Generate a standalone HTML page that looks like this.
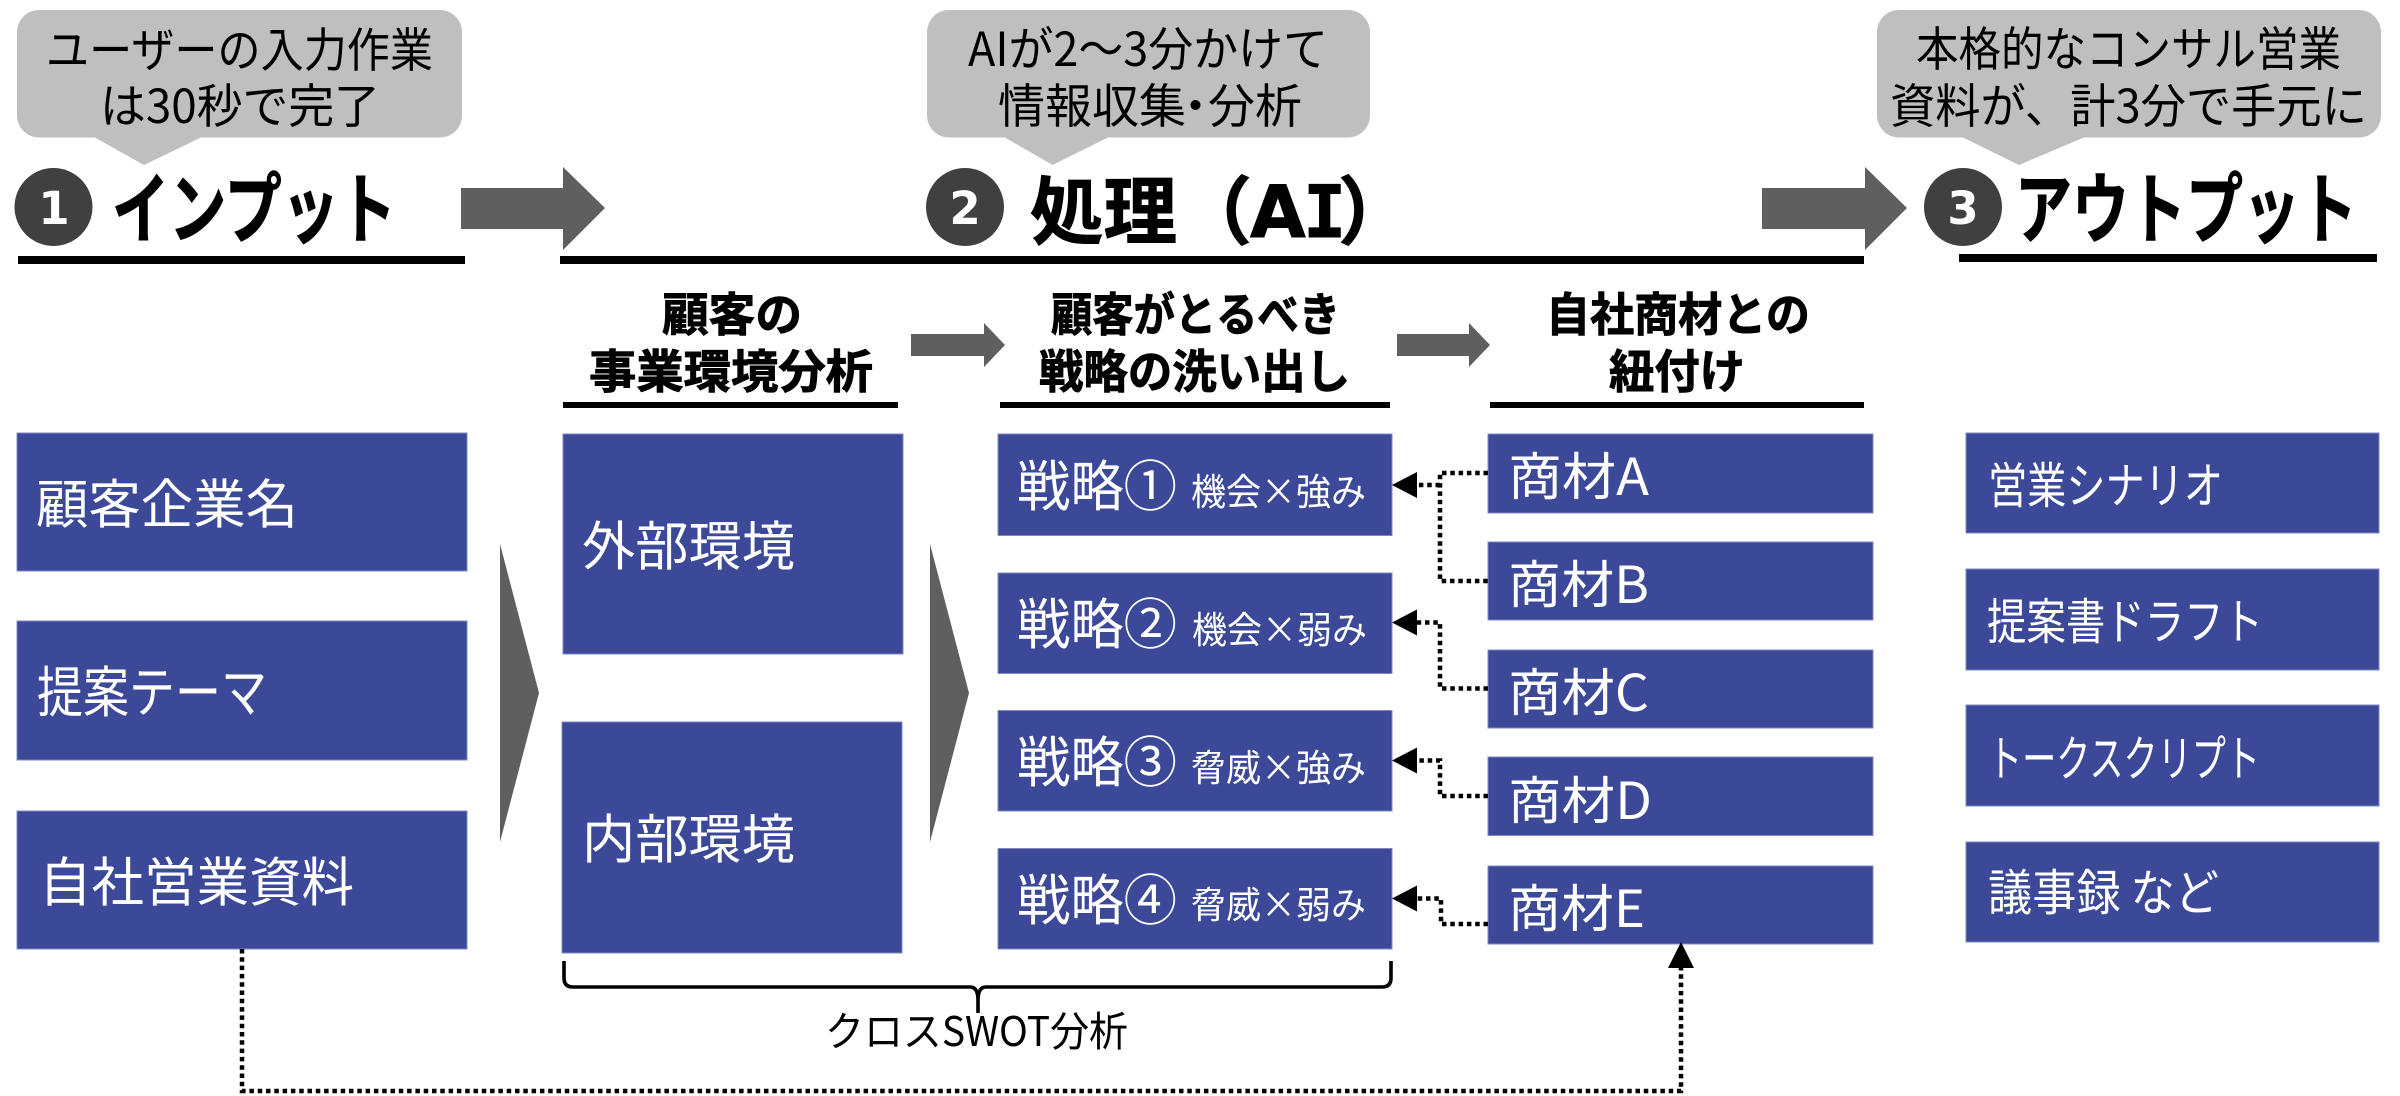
<!DOCTYPE html>
<html lang="ja"><head><meta charset="utf-8"><title>diagram</title>
<style>
html,body{margin:0;padding:0;background:#fff;width:2400px;height:1096px;overflow:hidden}
svg{display:block}
text{font-family:"Liberation Sans","Noto Sans CJK JP",sans-serif;}
.b{font-family:"Noto Sans CJK JP","Liberation Sans",sans-serif;font-weight:700;fill:#000;stroke:#000;stroke-width:.9}
.r{font-family:"Noto Sans CJK JP","Liberation Sans",sans-serif;font-weight:400}
.k{fill:#000}.w{fill:#fff}
.box{fill:#3c4898;stroke:#7f88c4;stroke-width:1}
.d{fill:none;stroke:#000;stroke-width:4.5;stroke-dasharray:4.5 3.8}
</style></head><body>
<svg xmlns="http://www.w3.org/2000/svg" width="2400" height="1096" viewBox="0 0 2400 1096">
<rect width="2400" height="1096" fill="#fff"/>
<!-- bubbles -->
<g fill="#bfbfbf">
<rect x="17" y="10" width="445" height="127.5" rx="22"/><polygon points="94,137 202,137 144,165"/>
<rect x="927" y="10" width="443" height="127.5" rx="22"/><polygon points="1004,137 1109,137 1052.5,165"/>
<rect x="1877" y="10" width="504" height="127.5" rx="22"/><polygon points="1962,137 2085,137 2019,165"/>
</g>
<g class="r k" font-size="47">
<text class="r k" x="46" y="67" textLength="387" lengthAdjust="spacingAndGlyphs">ユーザーの入力作業</text>
<text class="r k" x="100" y="123" textLength="280" lengthAdjust="spacingAndGlyphs">は30秒で完了</text>
<text class="r k" x="968" y="66" textLength="360" lengthAdjust="spacingAndGlyphs">AIが2～3分かけて</text>
<text class="r k"><tspan x="998" y="123">情報収集</tspan><tspan x="1172" y="123">・</tspan><tspan x="1208" y="123">分析</tspan></text>
<text class="r k" x="1916" y="66" textLength="425" lengthAdjust="spacingAndGlyphs">本格的なコンサル営業</text>
<text class="r k" x="1890" y="123" textLength="477" lengthAdjust="spacingAndGlyphs">資料が、計3分で手元に</text>
</g>
<!-- number circles -->
<g fill="#404040"><circle cx="53.5" cy="207" r="39"/><circle cx="965" cy="207" r="39"/><circle cx="1963" cy="207" r="39"/></g>
<g text-anchor="middle" fill="#fff">
<text x="54" y="224" fill="#fff" font-family="DejaVu Sans, sans-serif" font-weight="700" font-size="45" style="font-family:'DejaVu Sans',sans-serif">1</text>
<text x="965" y="224" fill="#fff" font-weight="700" font-size="45" style="font-family:'DejaVu Sans',sans-serif">2</text>
<text x="1963" y="224" fill="#fff" font-weight="700" font-size="45" style="font-family:'DejaVu Sans',sans-serif">3</text>
</g>
<!-- titles -->
<text class="b" x="112" y="237" font-size="77" textLength="284" lengthAdjust="spacingAndGlyphs">インプット</text>
<text class="b" x="1030" y="238" font-size="74" textLength="147" lengthAdjust="spacingAndGlyphs">処理</text>
<text class="b" x="1178" y="238" font-size="74">（</text>
<text class="b" x="1250" y="237" font-size="72" style="font-family:'DejaVu Sans',sans-serif">A</text>
<text class="b" x="1303" y="237" font-size="72" style="font-family:'DejaVu Sans Mono',monospace">I</text>
<text class="b" x="1338" y="238" font-size="74">）</text>
<text class="b" x="2015" y="237" font-size="77" textLength="342" lengthAdjust="spacingAndGlyphs">アウトプット</text>
<!-- lines -->
<g fill="#000">
<rect x="18" y="256" width="447" height="8"/>
<rect x="560" y="256" width="1304" height="8"/>
<rect x="1959" y="254" width="418" height="8"/>
<rect x="563" y="402" width="335" height="6"/>
<rect x="1000" y="402" width="390" height="6"/>
<rect x="1490" y="402" width="374" height="6"/>
</g>
<!-- arrows -->
<g fill="#5f5f5f">
<polygon points="461,188 563,188 563,167 605,208 563,250 563,229 461,229"/>
<polygon points="1762,188 1865,188 1865,167 1907,208 1865,250 1865,229 1762,229"/>
<polygon points="911,334 984,334 984,323 1005,345 984,367 984,356 911,356"/>
<polygon points="1397,334 1469,334 1469,323 1490,345 1469,367 1469,356 1397,356"/>
<polygon points="500,544 539,693 500,842"/>
<polygon points="930,544 969,693 930,842"/>
</g>
<!-- sub headers -->
<text class="b" x="662" y="331" font-size="46" textLength="140" lengthAdjust="spacingAndGlyphs">顧客の</text>
<text class="b" x="589" y="388" font-size="46" textLength="284" lengthAdjust="spacingAndGlyphs">事業環境分析</text>
<text class="b" x="1051" y="331" font-size="46" textLength="289" lengthAdjust="spacingAndGlyphs">顧客がとるべき</text>
<text class="b" x="1039" y="388" font-size="46" textLength="311" lengthAdjust="spacingAndGlyphs">戦略の洗い出し</text>
<text class="b" x="1546" y="331" font-size="46" textLength="264" lengthAdjust="spacingAndGlyphs">自社商材との</text>
<text class="b" x="1609" y="388" font-size="46" textLength="136" lengthAdjust="spacingAndGlyphs">紐付け</text>
<!-- input boxes -->
<rect class="box" x="17" y="433" width="450" height="138"/>
<rect class="box" x="17" y="621" width="450" height="139"/>
<rect class="box" x="17" y="811" width="450" height="138"/>
<text class="r w" x="36" y="523" font-size="53" textLength="262" lengthAdjust="spacingAndGlyphs">顧客企業名</text>
<text class="r w" x="37" y="712" font-size="55" textLength="230" lengthAdjust="spacingAndGlyphs">提案テーマ</text>
<text class="r w" x="39" y="901" font-size="53" textLength="315" lengthAdjust="spacingAndGlyphs">自社営業資料</text>
<!-- env boxes -->
<rect class="box" x="563" y="434" width="340" height="220"/>
<rect class="box" x="562" y="722" width="340" height="231"/>
<text class="r w" x="582" y="565" font-size="53" textLength="213" lengthAdjust="spacingAndGlyphs">外部環境</text>
<text class="r w" x="582" y="858" font-size="53" textLength="213" lengthAdjust="spacingAndGlyphs">内部環境</text>
<!-- strategy -->
<rect class="box" x="998" y="434" width="394" height="101.5"/>
<rect class="box" x="998" y="573" width="394" height="100.5"/>
<rect class="box" x="998" y="710.5" width="394" height="100.5"/>
<rect class="box" x="998" y="848.5" width="394" height="100.5"/>
<text class="r w" x="1017" y="506" font-size="55" textLength="160" lengthAdjust="spacingAndGlyphs">戦略①</text>
<text class="r w" x="1017" y="644" font-size="55" textLength="160" lengthAdjust="spacingAndGlyphs">戦略②</text>
<text class="r w" x="1017" y="782" font-size="55" textLength="160" lengthAdjust="spacingAndGlyphs">戦略③</text>
<text class="r w" x="1017" y="920" font-size="55" textLength="160" lengthAdjust="spacingAndGlyphs">戦略④</text>
<text class="r w" x="1191" y="505" font-size="37" textLength="175" lengthAdjust="spacingAndGlyphs">機会×強み</text>
<text class="r w" x="1192" y="643" font-size="37" textLength="175" lengthAdjust="spacingAndGlyphs">機会×弱み</text>
<text class="r w" x="1191" y="781" font-size="37" textLength="175" lengthAdjust="spacingAndGlyphs">脅威×強み</text>
<text class="r w" x="1191" y="918" font-size="37" textLength="175" lengthAdjust="spacingAndGlyphs">脅威×弱み</text>
<!-- materials -->
<rect class="box" x="1488" y="434" width="385" height="79"/>
<rect class="box" x="1488" y="542" width="385" height="78"/>
<rect class="box" x="1488" y="650" width="385" height="78"/>
<rect class="box" x="1488" y="757" width="385" height="78.5"/>
<rect class="box" x="1488" y="866" width="385" height="78"/>
<text class="r w" x="1508" y="495" font-size="51" textLength="141" lengthAdjust="spacingAndGlyphs">商材A</text>
<text class="r w" x="1508" y="603" font-size="51" textLength="141" lengthAdjust="spacingAndGlyphs">商材B</text>
<text class="r w" x="1508" y="711" font-size="51" textLength="141" lengthAdjust="spacingAndGlyphs">商材C</text>
<text class="r w" x="1508" y="819" font-size="51" textLength="144" lengthAdjust="spacingAndGlyphs">商材D</text>
<text class="r w" x="1508" y="927" font-size="51" textLength="137" lengthAdjust="spacingAndGlyphs">商材E</text>
<!-- outputs -->
<rect class="box" x="1966" y="433" width="413" height="100"/>
<rect class="box" x="1966" y="569" width="413" height="101"/>
<rect class="box" x="1966" y="705" width="413" height="101"/>
<rect class="box" x="1966" y="842" width="413" height="100"/>
<text class="r w" x="1988" y="503" font-size="49" textLength="235" lengthAdjust="spacingAndGlyphs">営業シナリオ</text>
<text class="r w" x="1987" y="639" font-size="49" textLength="276" lengthAdjust="spacingAndGlyphs">提案書ドラフト</text>
<text class="r w" x="1988" y="776" font-size="49" textLength="272" lengthAdjust="spacingAndGlyphs">トークスクリプト</text>
<text class="r w" x="1988" y="910" font-size="49" textLength="231" lengthAdjust="spacingAndGlyphs">議事録 など</text>
<!-- bracket -->
<path d="M564,961 V978 Q564,987 573,987 H970 Q978,987 978,1000 V1013 M978,1000 Q978,987 986,987 H1382 Q1391,987 1391,978 V961" fill="none" stroke="#000" stroke-width="3.6"/>
<text class="r k" x="825" y="1046" font-size="41" textLength="303" lengthAdjust="spacingAndGlyphs">クロスSWOT分析</text>
<!-- dotted connectors -->
<path class="d" d="M242,949 V1091 H1681 V966"/>
<path class="d" d="M1488,473 H1440 V581 H1488"/>
<path class="d" d="M1440,485 H1416"/>
<path class="d" d="M1488,688.5 H1440 V622.5 H1416"/>
<path class="d" d="M1488,796 H1440 V760.5 H1416"/>
<path class="d" d="M1488,924 H1441 V898.5 H1416"/>
<g fill="#000">
<polygon points="1392,485 1417,472 1417,498"/>
<polygon points="1392,622.5 1417,609.5 1417,635.5"/>
<polygon points="1392,760.5 1417,747.5 1417,773.5"/>
<polygon points="1392,898.5 1417,885.5 1417,911.5"/>
<polygon points="1681,942 1668,968 1694,968"/>
</g>
</svg>
</body></html>
